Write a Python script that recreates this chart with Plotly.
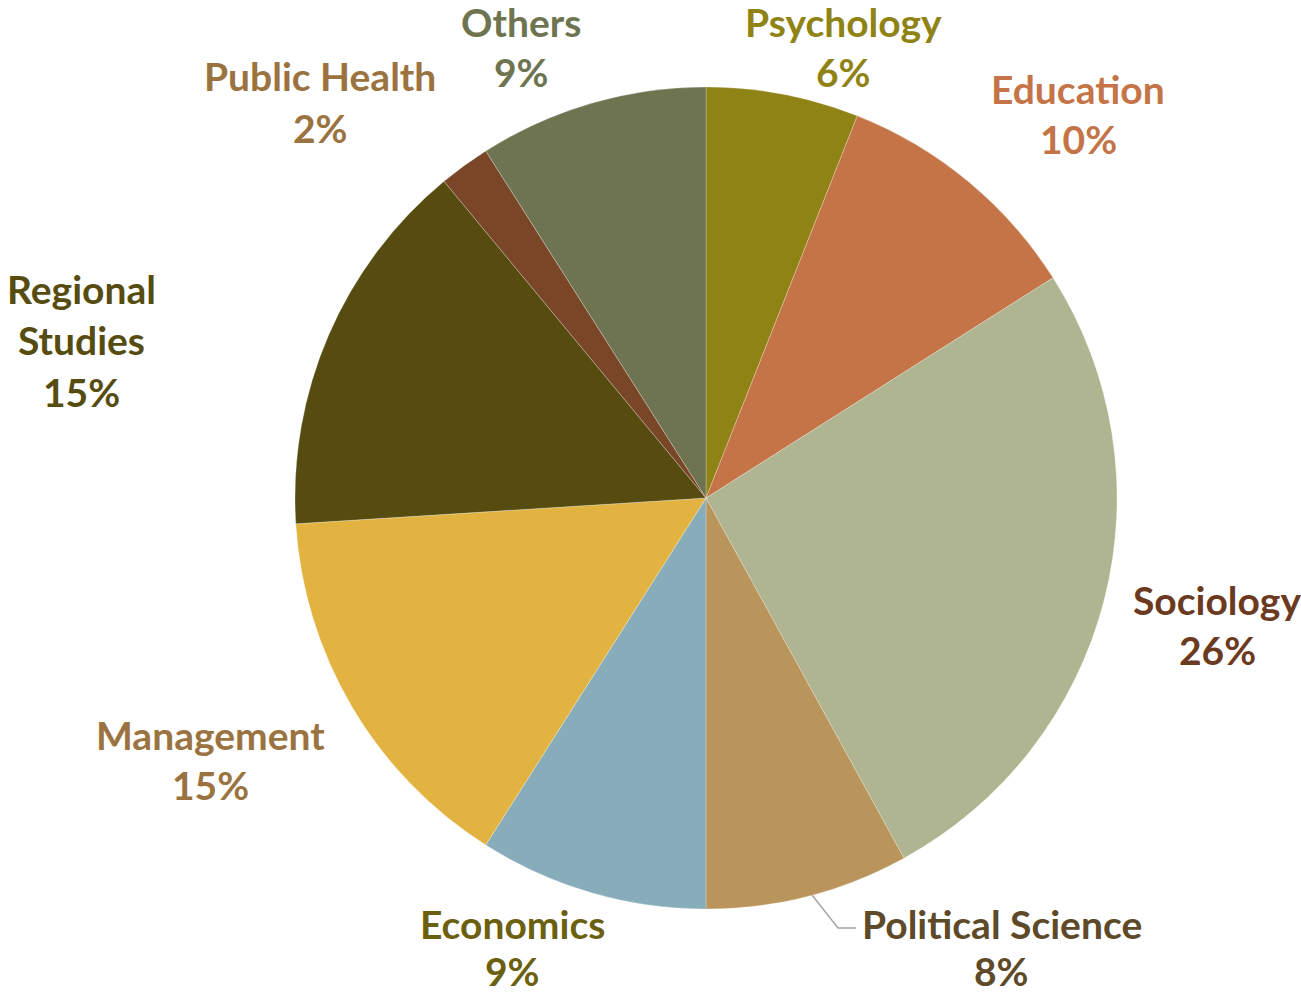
import plotly.graph_objects as go

categories = ["Psychology", "Education", "Sociology", "Political Science", "Economics",
              "Management", "Regional Studies", "Public Health", "Others"]
shares = [6, 10, 26, 8, 9, 15, 15, 2, 9]

slice_colors = ["#8F8316", "#C47447", "#AEB590", "#B9945B", "#87ACBA",
                "#E3B341", "#564C10", "#7A4628", "#6F7450"]
label_colors = ["#8F8316", "#C47447", "#6B3A1F", "#5E4A28", "#6B6010",
                "#9A7340", "#564C10", "#9A7340", "#6F7450"]
label_text = ["Psychology", "Education", "Sociology", "Political Science", "Economics",
              "Management", "Regional<br>Studies", "Public Health", "Others"]
# label positions in pixels: (x centre, y centre of name block, y centre of percent line)
label_pos = [(844, 22, 72), (1078, 89, 139), (1217, 600, 650), (1002, 924, 971),
             (512, 924, 971), (211, 735, 785), (81, 314, 392), (320, 76, 128),
             (521, 22, 72)]

W, H = 1301, 995
cx, cy, r = 706, 498, 411

fig = go.Figure()
fig.add_trace(go.Pie(
    labels=categories, values=shares, sort=False, direction="clockwise", rotation=0,
    marker=dict(colors=slice_colors, line=dict(width=0.5, color="rgba(255,255,255,0.5)")),
    textinfo="none", hoverinfo="label+percent", showlegend=False,
    domain=dict(x=[(cx - r) / W, (cx + r) / W], y=[(H - cy - r) / H, (H - cy + r) / H]),
))

for txt, val, col, (px, py1, py2) in zip(label_text, shares, label_colors, label_pos):
    fnt = dict(family="Lato", size=39, color=col, weight="bold")
    fig.add_annotation(
        x=px / W, y=1 - py1 / H, xref="paper", yref="paper",
        text=txt, showarrow=False, xanchor="center", yanchor="middle",
        align="center", font=fnt, borderpad=0,
    )
    fig.add_annotation(
        x=px / W, y=1 - py2 / H, xref="paper", yref="paper",
        text=f"{val}%", showarrow=False, xanchor="center", yanchor="middle",
        align="center", font=fnt, borderpad=0,
    )

# leader line for Political Science
fig.add_shape(type="path", xref="paper", yref="paper",
              path=f"M {812/W} {1-895/H} L {838/W} {1-928/H} L {856/W} {1-928/H}",
              line=dict(color="#A6A6A6", width=1.5))

fig.update_layout(width=W, height=H, margin=dict(l=0, r=0, t=0, b=0),
                  paper_bgcolor="white", plot_bgcolor="white")
fig.write_html("out.html", config={"displayModeBar": False},
               post_script="document.body.style.margin='0';document.body.style.overflow='hidden';")
